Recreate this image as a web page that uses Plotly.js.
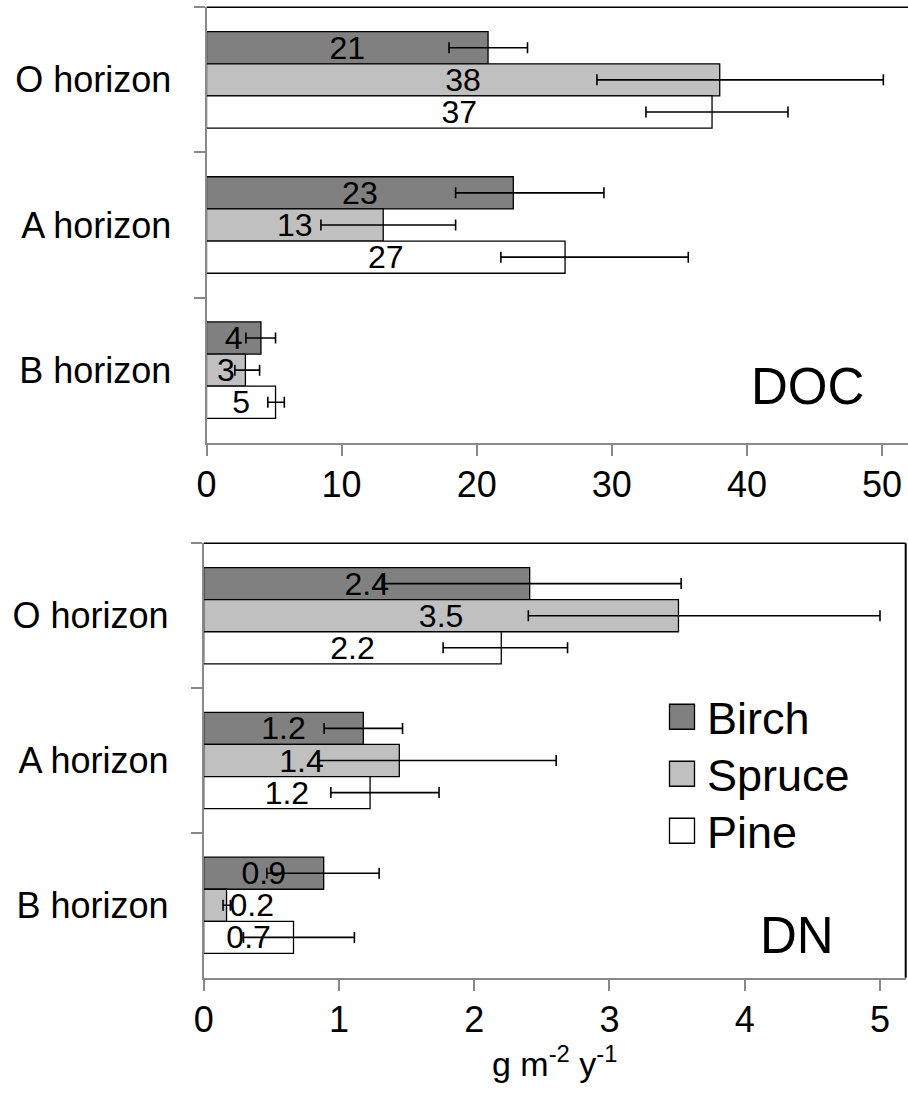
<!DOCTYPE html>
<html>
<head>
<meta charset="utf-8">
<script src="https://cdn.plot.ly/plotly-3.0.1.min.js"></script>
<style>
html,body{margin:0;padding:0;background:#fff;}
#chart{width:908px;height:1093px;}
</style>
</head>
<body>
<div id="chart"></div>
<script>
// ---- data ----
const categories = ['O horizon', 'A horizon', 'B horizon'];
const seriesNames = ['Birch', 'Spruce', 'Pine'];

// DOC (g m-2 y-1)
const docBirch = [20.84, 22.71, 4.03];
const docBirchErrMinus = [2.89, 4.27, 1.11];
const docBirchErrPlus = [2.92, 6.71, 1.08];
const docSpruce = [37.99, 13.08, 2.88];
const docSpruceErrMinus = [9.09, 4.61, 0.78];
const docSpruceErrPlus = [12.11, 5.36, 1.05];
const docPine = [37.42, 26.54, 5.11];
const docPineErrMinus = [4.89, 4.75, 0.57];
const docPineErrPlus = [5.62, 9.12, 0.65];

// DN (g m-2 y-1)
const dnBirch = [2.41, 1.18, 0.887];
const dnBirchErrMinus = [1.09, 0.29, 0.42];
const dnBirchErrPlus = [1.12, 0.29, 0.41];
const dnSpruce = [3.51, 1.446, 0.169];
const dnSpruceErrMinus = [1.11, 0.60, 0.026];
const dnSpruceErrPlus = [1.49, 1.16, 0.028];
const dnPine = [2.20, 1.23, 0.664];
const dnPineErrMinus = [0.43, 0.29, 0.37];
const dnPineErrPlus = [0.49, 0.51, 0.45];

const docTicks = [0, 10, 20, 30, 40, 50];
const dnTicks = [0, 1, 2, 3, 4, 5];

// ---- styles ----
const FONT = 'Liberation Sans, Arial, Helvetica, sans-serif';
const colors = ['#808080', '#c0c0c0', '#ffffff'];
const axisGray = '#898989';

function barTrace(name, x, em, ep, color, xa, ya, fmt, showlegend, positions) {
  return {
    type: 'bar', orientation: 'h', name: name,
    x: x, y: categories, xaxis: xa, yaxis: ya,
    marker: {color: color, line: {color: '#000', width: 1.3}},
    error_x: {type: 'data', symmetric: false, array: ep, arrayminus: em,
              color: '#000', thickness: 1.6, width: 5.5},
    texttemplate: fmt, textposition: positions,
    insidetextanchor: 'middle', textangle: 0, constraintext: 'none',
    textfont: {family: FONT, size: 32, color: '#000'},
    insidetextfont: {family: FONT, size: 32, color: '#000'},
    outsidetextfont: {family: FONT, size: 32, color: '#000'},
    cliponaxis: false,
    showlegend: showlegend, hoverinfo: 'x+name'
  };
}

const inAll = ['inside', 'inside', 'inside'];
const data = [
  barTrace(seriesNames[0], docBirch, docBirchErrMinus, docBirchErrPlus, colors[0], 'x', 'y', '%{x:.0f}', false, inAll),
  barTrace(seriesNames[1], docSpruce, docSpruceErrMinus, docSpruceErrPlus, colors[1], 'x', 'y', '%{x:.0f}', false, inAll),
  barTrace(seriesNames[2], docPine, docPineErrMinus, docPineErrPlus, colors[2], 'x', 'y', '%{x:.0f}', false, inAll),
  barTrace(seriesNames[0], dnBirch, dnBirchErrMinus, dnBirchErrPlus, colors[0], 'x2', 'y2', '%{x:.1f}', true, inAll),
  barTrace(seriesNames[1], dnSpruce, dnSpruceErrMinus, dnSpruceErrPlus, colors[1], 'x2', 'y2', '%{x:.1f}', true, ['inside', 'inside', 'outside']),
  barTrace(seriesNames[2], dnPine, dnPineErrMinus, dnPineErrPlus, colors[2], 'x2', 'y2', '%{x:.1f}', true, inAll)
];

const W = 908, H = 1093;
function px2x(p) { return p / W; }
function px2y(p) { return 1 - p / H; }

const xCommon = {
  showgrid: false, zeroline: false, ticks: 'outside', ticklen: 11, tickwidth: 2,
  tickcolor: axisGray, showline: true, linecolor: axisGray, linewidth: 2,
  tickfont: {family: FONT, size: 36, color: '#000'}, automargin: false,
  ticklabelstandoff: -2
};
const yCommon = {
  type: 'category', autorange: 'reversed', tickson: 'boundaries',
  showgrid: false, zeroline: false, ticks: 'outside', ticklen: 11, tickwidth: 2,
  tickcolor: axisGray, showline: true, linecolor: axisGray, linewidth: 2,
  tickfont: {family: FONT, size: 36, color: '#000'}, automargin: false,
  ticklabelstandoff: 26
};

const layout = {
  width: W, height: H,
  margin: {l: 0, r: 0, t: 0, b: 0},
  paper_bgcolor: '#fff', plot_bgcolor: 'rgba(0,0,0,0)',
  font: {family: FONT, color: '#000'},
  barmode: 'group', bargap: 0.335, bargroupgap: 0,
  xaxis: Object.assign({}, xCommon, {
    domain: [px2x(206.5), 1], range: [0, (908 - 206.5) / 13.51],
    tickvals: docTicks, anchor: 'y'
  }),
  yaxis: Object.assign({}, yCommon, {
    domain: [px2y(442.7), px2y(7.3)], anchor: 'x'
  }),
  xaxis2: Object.assign({}, xCommon, {
    domain: [px2x(203.7), px2x(905.7)], range: [0, (905.7 - 203.7) / 135.26],
    tickvals: dnTicks, anchor: 'y2',
    title: {text: 'g m<sup>-2</sup> y<sup>-1</sup>', font: {family: FONT, size: 34, color: '#000'}, standoff: 4}
  }),
  yaxis2: Object.assign({}, yCommon, {
    domain: [px2y(977.7), px2y(543.3)], anchor: 'x2'
  }),
  legend: {
    x: px2x(657), y: px2y(681), xanchor: 'left', yanchor: 'top',
    bgcolor: 'rgba(0,0,0,0)', borderwidth: 0, traceorder: 'normal',
    font: {family: FONT, size: 45, color: '#000'}, itemwidth: 40
  },
  shapes: [
    {type: 'line', xref: 'x domain', yref: 'y domain', x0: 0, x1: 1, y0: 1, y1: 1,
     line: {color: '#000', width: 1.5}, layer: 'below'},
    {type: 'line', xref: 'x2 domain', yref: 'y2 domain', x0: 0, x1: 1, y0: 1, y1: 1,
     line: {color: '#000', width: 1.5}, layer: 'below'},
    {type: 'line', xref: 'x2 domain', yref: 'y2 domain', x0: 1, x1: 1, y0: 0, y1: 1,
     line: {color: '#000', width: 2}, layer: 'below'}
  ],
  annotations: [
    {text: 'DOC', xref: 'paper', yref: 'paper', x: px2x(807.5), y: px2y(386.5),
     xanchor: 'center', yanchor: 'middle', showarrow: false,
     font: {family: FONT, size: 51, color: '#000'}},
    {text: 'DN', xref: 'paper', yref: 'paper', x: px2x(796.5), y: px2y(935),
     xanchor: 'center', yanchor: 'middle', showarrow: false,
     font: {family: FONT, size: 51, color: '#000'}}
  ]
};

Plotly.newPlot('chart', data, layout, {displayModeBar: false, staticPlot: true}).then(function (gd) {
  // enlarge legend swatches to match the reference's large squares
  gd.querySelectorAll('.legend .legendpoints path').forEach(function (p) {
    p.setAttribute('d', 'M12.5,12.5H-12.5V-12.5H12.5Z');
  });
  // tighten legend row spacing to the reference's
  const items = gd.querySelectorAll('.legend .traces');
  let x0 = null, y0 = null;
  items.forEach(function (g, i) {
    const m = /translate\(\s*([-\d.]+)[ ,]+([-\d.]+)\s*\)/.exec(g.getAttribute('transform') || '');
    if (!m) return;
    if (i === 0) { x0 = parseFloat(m[1]); y0 = parseFloat(m[2]); }
    g.setAttribute('transform', 'translate(' + x0 + ',' + (y0 + i * 57) + ')');
  });
});
</script>
</body>
</html>
